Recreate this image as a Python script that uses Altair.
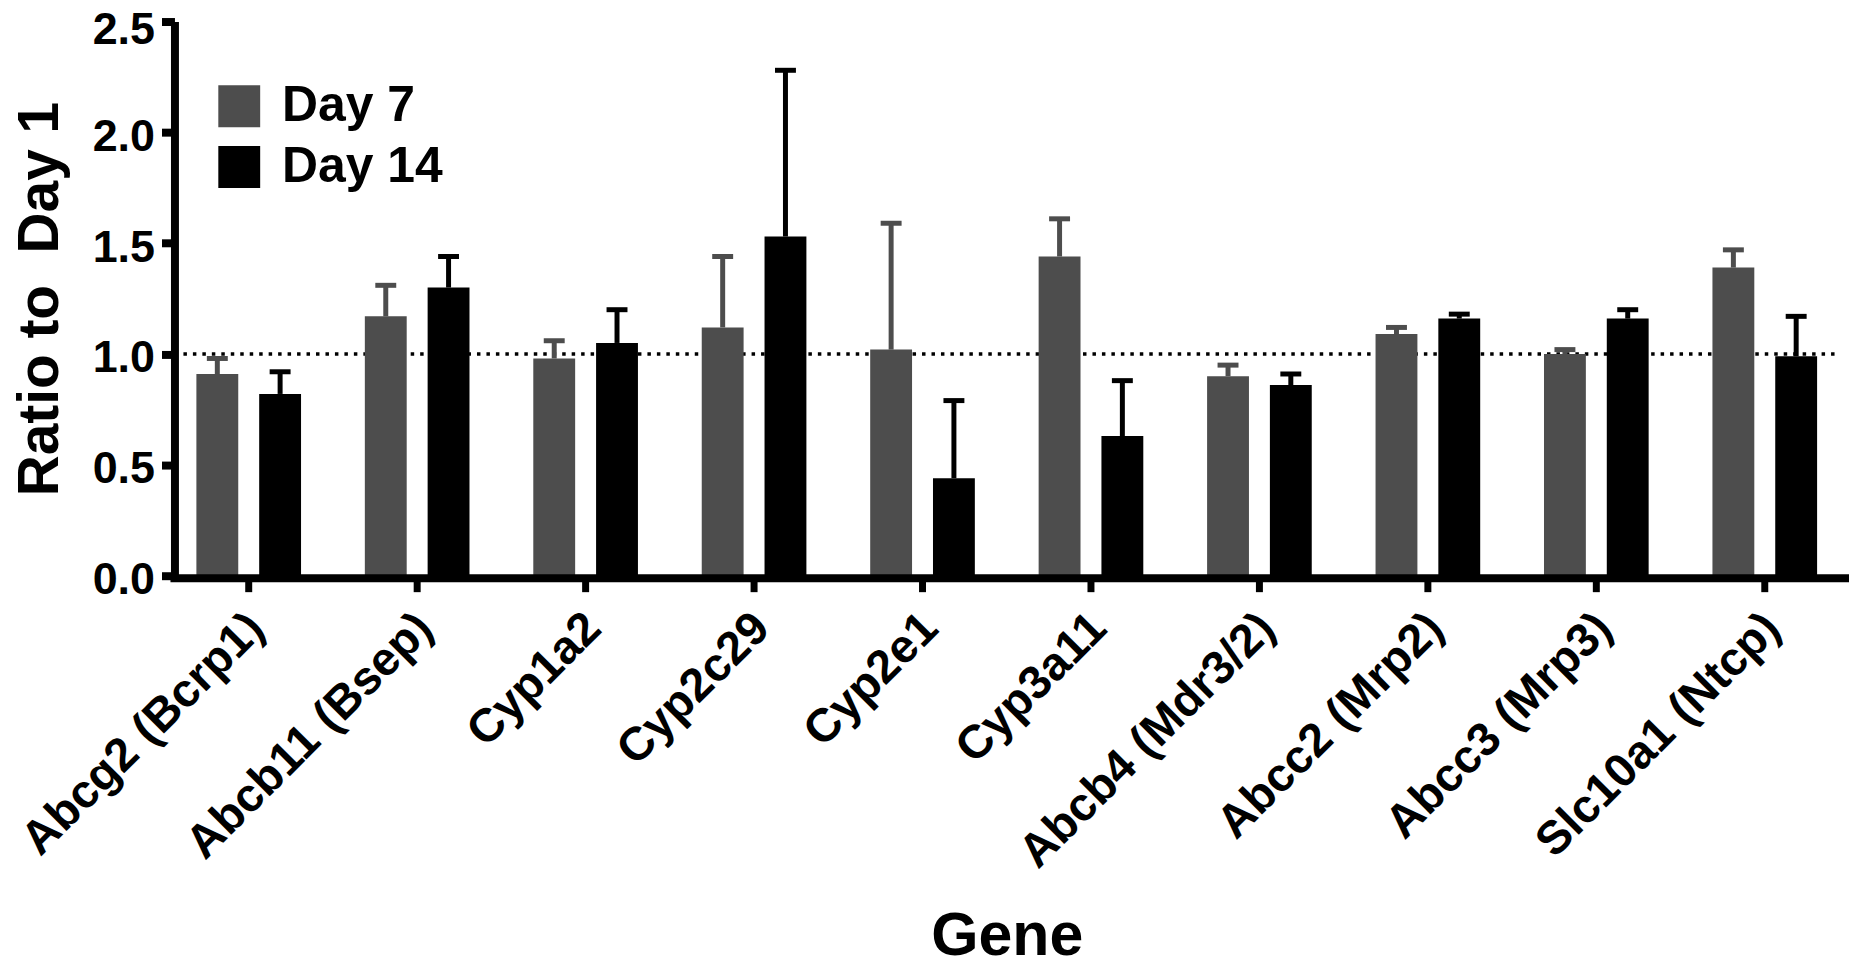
import altair as alt
import pandas as pd

# ---- data ----
genes = ["Abcg2 (Bcrp1)", "Abcb11 (Bsep)", "Cyp1a2", "Cyp2c29", "Cyp2e1",
         "Cyp3a11", "Abcb4 (Mdr3/2)", "Abcc2 (Mrp2)", "Abcc3 (Mrp3)", "Slc10a1 (Ntcp)"]
days = ["Day 7", "Day 14"]
day7_mean = [0.91, 1.17, 0.98, 1.12, 1.02, 1.44, 0.90, 1.09, 1.00, 1.39]
day7_sem = [0.07, 0.14, 0.08, 0.32, 0.57, 0.17, 0.05, 0.03, 0.02, 0.08]
day14_mean = [0.82, 1.30, 1.05, 1.53, 0.44, 0.63, 0.86, 1.16, 1.16, 0.99]
day14_sem = [0.10, 0.14, 0.15, 0.75, 0.35, 0.25, 0.05, 0.02, 0.04, 0.18]
y_ticks = [0.0, 0.5, 1.0, 1.5, 2.0, 2.5]
ref_value = [1.0]
colors = ["#4d4d4d", "#000000"]

rows = []
for d, means, sems in (("Day 7", day7_mean, day7_sem), ("Day 14", day14_mean, day14_sem)):
    for g, m, s in zip(genes, means, sems):
        rows.append({"gene": g, "day": d, "mean": m, "upper": round(m + s, 3)})
df = pd.DataFrame(rows)

FONT = "Liberation Sans"
W, H = 1690, 556
Y_TITLE = "Ratio to\u00a0 Day 1"

x_enc = alt.X(
    "gene:N", sort=genes,
    scale=alt.Scale(paddingInner=0, paddingOuter=0),
    axis=alt.Axis(
        title="Gene", titleFont=FONT, titleFontSize=61, titleFontWeight="bold",
        titleColor="black", titleX=W / 2, titleY=380, titleBaseline="alphabetic",
        titleAlign="center",
        labelAngle=-45, labelAlign="right", labelBaseline="middle",
        labelFont=FONT, labelFontSize=47, labelFontWeight="bold", labelColor="black",
        labelPadding=29, labelOffset=8, labelLimit=2000, labelOverlap=False,
        tickSize=16, tickWidth=7, tickColor="black", domain=False,
    ),
)
xo_enc = alt.XOffset("day:N", sort=days,
                     scale=alt.Scale(domain=days, paddingInner=1 / 3, paddingOuter=0.508))

y_axis = alt.Axis(
    title=Y_TITLE, titleFont=FONT, titleFontSize=57, titleFontWeight="bold",
    titleColor="black", titleAngle=270, titleX=-117, titleY=H / 2,
    titleBaseline="alphabetic", titleAlign="center",
    values=y_ticks, format=".1f", grid=False,
    labelFont=FONT, labelFontSize=45, labelFontWeight="bold", labelColor="black",
    labelPadding=7,
    labelOffset=alt.condition(f"datum.value == {max(y_ticks)}", alt.value(8), alt.value(4)),
    tickSize=13, tickWidth=8, tickColor="black",
    domainWidth=8, domainColor="black", offset=-10,
)
y_scale = alt.Scale(domain=[0, 2.5], nice=False)

color_scale = alt.Scale(domain=days, range=colors)

base = alt.Chart(df)

ref = alt.Chart(pd.DataFrame({"v": ref_value})).mark_rule(
    color="black", strokeWidth=3.5, strokeDash=[3.5, 6]
).encode(
    y=alt.Y("v:Q", scale=y_scale, axis=y_axis, title=Y_TITLE),
    x=alt.value(19), x2=alt.value(1681),
)

bars = base.mark_bar().encode(
    x=x_enc, xOffset=xo_enc,
    y=alt.Y("mean:Q", scale=y_scale, axis=y_axis, title=Y_TITLE),
    color=alt.Color("day:N", sort=days, scale=color_scale, legend=alt.Legend(
        title=None, orient="none", legendX=50, legendY=60,
        symbolType="square", symbolSize=1764, symbolStrokeWidth=0, symbolOpacity=1,
        labelFont=FONT, labelFontSize=50, labelFontWeight="bold", labelColor="black",
        labelOffset=18, labelLimit=600, rowPadding=11, padding=0,
    )),
)

stems = base.mark_rule(strokeWidth=5).encode(
    x=x_enc, xOffset=xo_enc,
    y=alt.Y("mean:Q", scale=y_scale, axis=y_axis, title=Y_TITLE),
    y2="upper:Q",
    color=alt.Color("day:N", sort=days, scale=color_scale, legend=None),
)

caps = base.mark_tick(thickness=5, size=21, opacity=1).encode(
    x=x_enc, xOffset=xo_enc,
    y=alt.Y("upper:Q", scale=y_scale, axis=y_axis, title=Y_TITLE),
    color=alt.Color("day:N", sort=days, scale=color_scale, legend=None),
)

xline = alt.Chart(pd.DataFrame({"a": [0]})).mark_rule(
    color="black", strokeWidth=8
).encode(x=alt.value(6), x2=alt.value(W), y=alt.value(H + 2.5))

chart = alt.layer(ref, bars, stems, caps, xline).properties(
    width=W, height=H,
    autosize=alt.AutoSizeParams(type="none"),
    padding={"left": 157, "top": 12, "right": 0, "bottom": 393},
    background="white",
).configure_view(stroke=None)

chart.save("out.html", embed_options={"renderer": "svg", "actions": False})
